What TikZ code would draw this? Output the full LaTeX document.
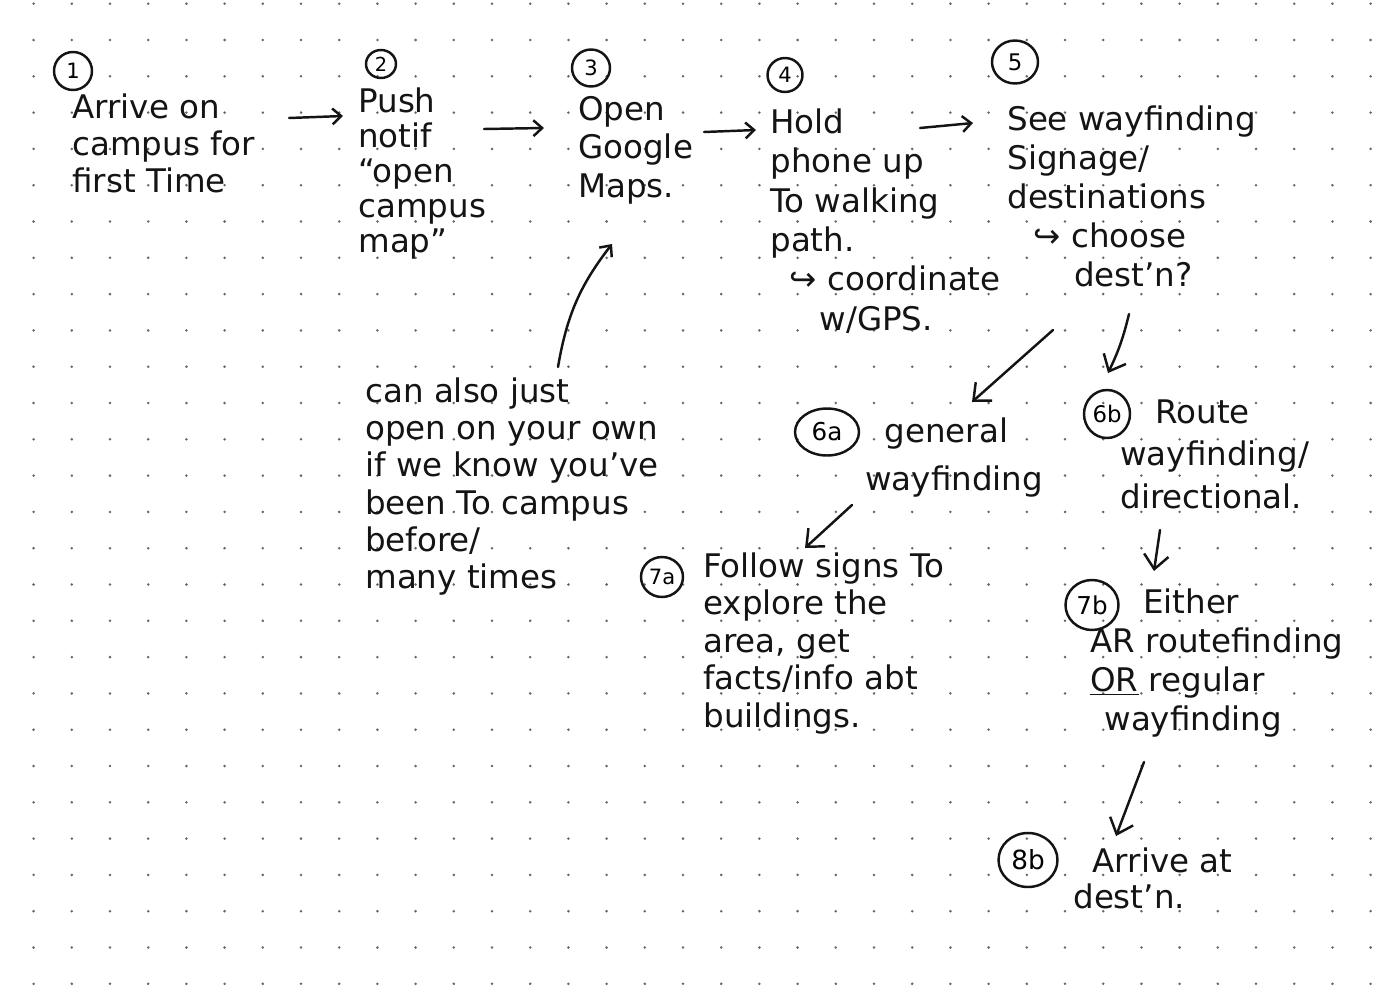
\documentclass[tikz,border=0pt]{standalone}
\usepackage{fontspec}
\setmainfont{DejaVu Sans}
\usetikzlibrary{arrows.meta,shapes.geometric}
\newcommand\toprow{\rule{0pt}{15pt}}
\begin{document}
\begin{tikzpicture}[x=0.02cm,y=-0.02cm,
  ink/.style={line width=1.4pt, line cap=round, line join=round, black!92},
  arr/.style={ink, -{Straight Barb[length=5pt,width=9pt]}},
  arrbig/.style={ink, -{Straight Barb[length=8pt,width=14pt]}},
  num/.style n args={3}{ellipse, draw=black!92, line width=1.4pt, inner sep=0pt,
    minimum width=#1cm, minimum height=#2cm, font=\fontsize{#3}{#3}\selectfont},
  txt/.style={anchor=north west, inner sep=0pt, align=left, text=black!92,
    font=\fontsize{18.5}{#1}\selectfont},
  gridDot/.style={fill=black!60},
]
% paper and dot grid
\useasboundingbox (0,0) rectangle (1392,1004);
\fill[white] (0,0) rectangle (1392,1004);
\foreach \i in {-3,...,33}
  \foreach \j in {-1,...,26}
    \fill[gridDot] ({110+38.2*\i},{40+36.3*\j}) circle (1.4);

% step numbers
\node[num={0.76}{0.76}{12}] (c1) at (73,71) {1};
\node[num={0.60}{0.56}{11}] (c2) at (381,64) {2};
\node[num={0.76}{0.74}{12}] (c3) at (591,68) {3};
\node[num={0.70}{0.68}{12}] (c4) at (785,75) {4};
\node[num={0.92}{0.86}{13}] (c5) at (1015,62) {5};
\node[num={1.28}{0.94}{14}] (c6a) at (827,432) {6a};
\node[num={0.92}{0.96}{13}] (c6b) at (1107,414) {6b};
\node[num={0.84}{0.80}{12}] (c7a) at (662,577) {7a};
\node[num={1.06}{1.00}{14}] (c7b) at (1092,605) {7b};
\node[num={1.18}{1.08}{15}] (c8b) at (1028,860) {8b};

% step texts
\node[txt=21] (t1) at (72,91.6) {\toprow Arrive on\\campus for\\first Time};
\node[txt=20] (t2) at (358,85.6) {\toprow Push\\notif\\“open\\campus\\map”};
\node[txt=22] (t3) at (578,93.6) {\toprow Open\\Google\\Maps.};
\node[txt=22.4] (t4) at (770,106.6) {\toprow Hold\\phone up\\To walking\\path.\\\hspace*{11pt}↪ coordinate\\\hspace*{28pt}w/GPS.};
\node[txt=22.2] (t5) at (1007,103.6) {\toprow See wayfinding\\Signage/\\destinations\\\hspace*{15pt}↪ choose\\\hspace*{38pt}dest'n?};
\node[txt=21.2] (tn) at (365,375.6) {\toprow can also just\\open on your own\\if we know you've\\been To campus\\before/\\many times};
\node[txt=27.3] (t6a) at (865,415.6) {\toprow\hspace*{11pt}general\\wayfinding};
\node[txt=24.2] (t6b) at (1120,396.6) {\toprow\hspace*{20pt}Route\\wayfinding/\\directional.};
\node[txt=21.3] (t7a) at (703,550.6) {\toprow Follow signs To\\explore the\\area, get\\facts/info abt\\buildings.};
\node[txt=22.2] (t7b) at (1090,586.6) {\toprow\hspace*{30pt}Either\\AR routefinding\\\underline{OR} regular\\\hspace*{8pt}wayfinding};
\node[txt=20.5] (t8b) at (1073,845.6) {\toprow\hspace*{11pt}Arrive at\\dest'n.};

% connector ends
\coordinate (a12s) at (289,118); \coordinate (a12e) at (343,116);
\coordinate (a23s) at (484,129); \coordinate (a23e) at (544,128);
\coordinate (a34s) at (704,132); \coordinate (a34e) at (756,130);
\coordinate (a45s) at (920,128); \coordinate (a45e) at (973,123);
\coordinate (ans)  at (558,367); \coordinate (ane)  at (612,244);
\coordinate (a56as) at (1053,330); \coordinate (a56ae) at (972,402);
\coordinate (a56bs) at (1129,314); \coordinate (a56be) at (1108,373);
\coordinate (a67as) at (852,505); \coordinate (a67ae) at (805,548);
\coordinate (a67bs) at (1160,530); \coordinate (a67be) at (1154,571);
\coordinate (a78s) at (1144,762); \coordinate (a78e) at (1116,836);

% connectors
\draw[arr] (a12s) -- (a12e);
\draw[arr] (a23s) -- (a23e);
\draw[arr] (a34s) -- (a34e);
\draw[arr] (a45s) -- (a45e);
\draw[arr] (ans) to[bend left=14] (ane);
\draw[arrbig] (a56as) -- (a56ae);
\draw[arrbig] (a56bs) to[bend left=6] (a56be);
\draw[arrbig] (a67as) -- (a67ae);
\draw[arrbig] (a67bs) -- (a67be);
\draw[arrbig] (a78s) -- (a78e);
\end{tikzpicture}
\end{document}
